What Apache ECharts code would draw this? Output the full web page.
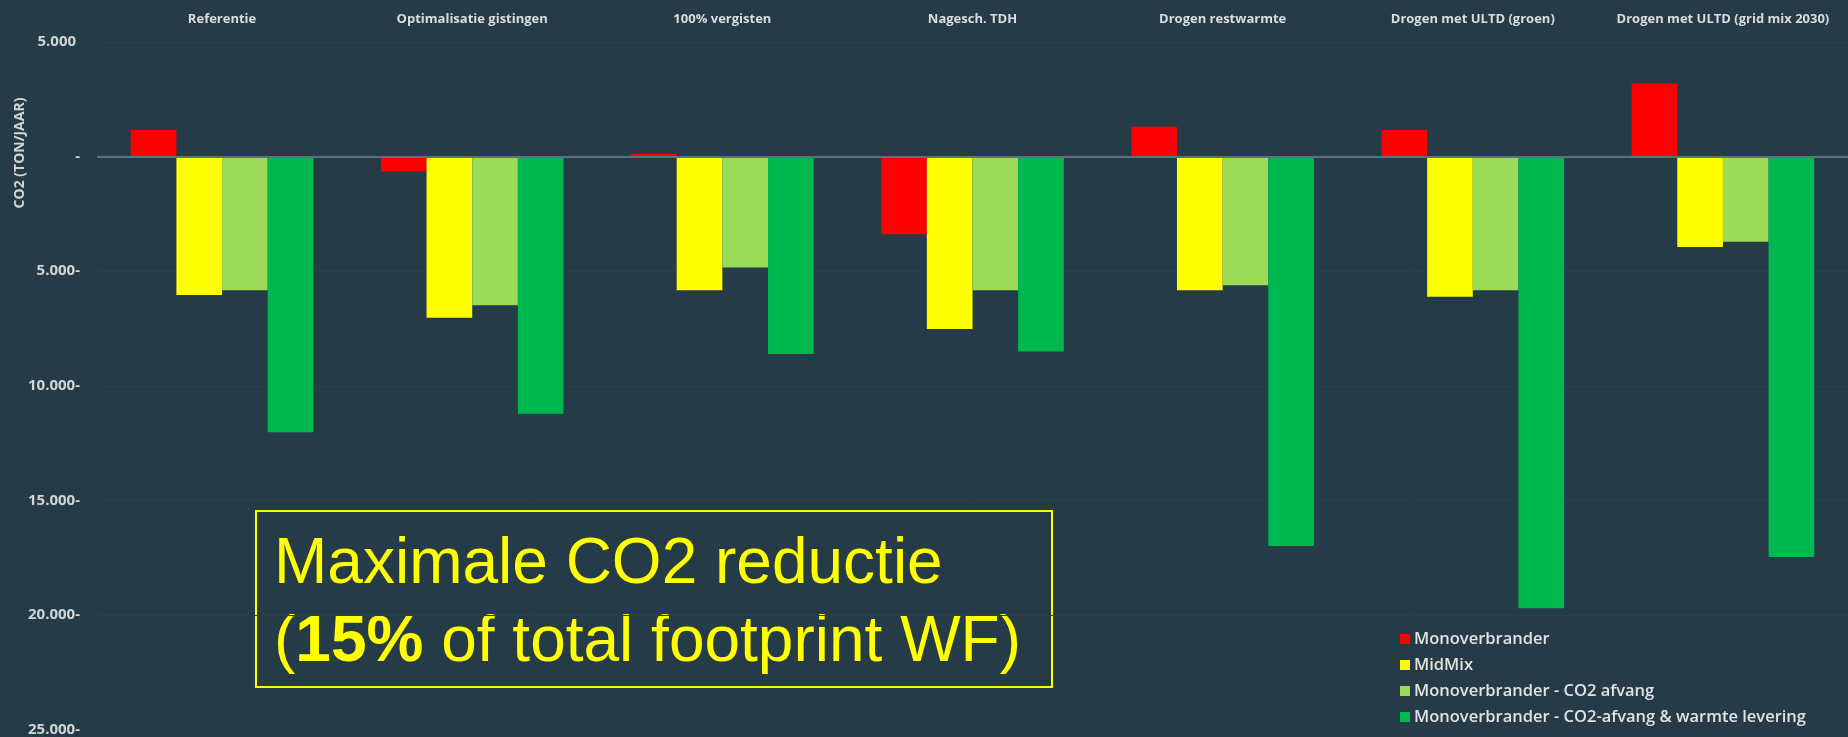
<!DOCTYPE html>
<html>
<head>
<meta charset="utf-8">
<script src="https://cdn.jsdelivr.net/npm/echarts@6/dist/echarts.min.js"></script>
<style>
html,body{margin:0;padding:0;background:#253b48;}
#chart{width:1848px;height:737px;}
</style>
</head>
<body>
<div id="chart"></div>
<script>
var categories = ['Referentie','Optimalisatie gistingen','100% vergisten','Nagesch. TDH','Drogen restwarmte','Drogen met ULTD (groen)','Drogen met ULTD (grid mix 2030)'];
var seriesNames = ['Monoverbrander','MidMix','Monoverbrander - CO2 afvang','Monoverbrander - CO2-afvang & warmte levering'];
var monoverbrander = [1160, -650, 120, -3390, 1300, 1160, 3190];
var midMix = [-6040, -7030, -5830, -7520, -5830, -6120, -3940];
var co2Afvang = [-5830, -6490, -4840, -5830, -5610, -5830, -3720];
var co2AfvangWarmte = [-12030, -11220, -8610, -8510, -16990, -19710, -17470];
var yTicks = [5000, 0, -5000, -10000, -15000, -20000, -25000];
var axisName = 'CO2 (TON/JAAR)';
var boxLine1 = 'Maximale CO2 reductie';
var boxLine2Bold = '15%';
var boxLine2Rest = ' of total footprint WF)';

var colors = ['#ff0000','#ffff00','#9bdb58','#00b850'];
var seriesData = [monoverbrander, midMix, co2Afvang, co2AfvangWarmte];

function fmt(v){
  if (v === 0) return '-';
  var s = Math.abs(v).toString().replace(/\B(?=(\d{3})+(?!\d))/g, '.');
  return v < 0 ? s + '-' : s + ' ';
}

var chart = echarts.init(document.getElementById('chart'));
var series = seriesNames.map(function(n, i){
  var s = {
    name: n, type: 'bar', data: seriesData[i],
    barGap: '0%', barCategoryGap: '27%',
    itemStyle: {color: colors[i]},
    emphasis: {disabled: true}
  };
  if (i === 0) {
    s.markLine = {
      silent: true, symbol: 'none', label: {show: false},
      lineStyle: {color: '#5d717c', width: 2, type: 'solid'},
      data: [{yAxis: 0}]
    };
  }
  return s;
});

chart.setOption({
  backgroundColor: '#253b48',
  animation: false,
  grid: {left: 97, right: 0, top: 42, bottom: 6, containLabel: false},
  legend: {
    orient: 'vertical', left: 1395, top: 625,
    itemWidth: 10, itemHeight: 10, itemGap: 8, icon: 'rect',
    data: seriesNames,
    textStyle: {color: '#e2e2e2', fontSize: 16.5, fontWeight: 600, fontFamily: 'Open Sans', lineHeight: 18, padding: [0,0,0,-1]}
  },
  xAxis: {
    type: 'category', data: categories, position: 'top',
    axisLine: {show: false}, axisTick: {show: false}, splitLine: {show: false},
    axisLabel: {color: '#dcdcdc', fontSize: 13, fontWeight: 'bold', fontFamily: 'Open Sans', margin: 16, interval: 0}
  },
  yAxis: {
    type: 'value', min: -25000, max: 5000, interval: 5000,
    axisLine: {show: false}, axisTick: {show: false},
    splitLine: {show: true, lineStyle: {color: '#2a404c', width: 1}},
    axisLabel: {color: '#d4d4d4', fontSize: 15, fontWeight: 'bold', fontFamily: 'Open Sans', margin: 17, formatter: fmt}
  },
  series: series,
  graphic: [
    {type: 'text', x: 20, y: 153, rotation: Math.PI/2,
     style: {text: axisName, fill: '#d4d4d4', font: 'bold 14px "Open Sans"', textAlign: 'center', textVerticalAlign: 'middle'}},
    {type: 'rect', shape: {x: 256, y: 511, width: 796, height: 176},
     style: {fill: 'none', stroke: '#ffff00', lineWidth: 2}},
    {type: 'text', x: 274, y: 565,
     style: {text: boxLine1, fill: '#ffff00', font: '64px "Liberation Sans"', textVerticalAlign: 'middle'}},
    {type: 'text', x: 274, y: 643,
     style: {text: '({b|' + boxLine2Bold + '}' + boxLine2Rest, fill: '#ffff00', font: '64px "Liberation Sans"', textVerticalAlign: 'middle',
       rich: {b: {fill: '#ffff00', font: 'bold 64px "Liberation Sans"'}}}}
  ]
});
</script>
</body>
</html>
